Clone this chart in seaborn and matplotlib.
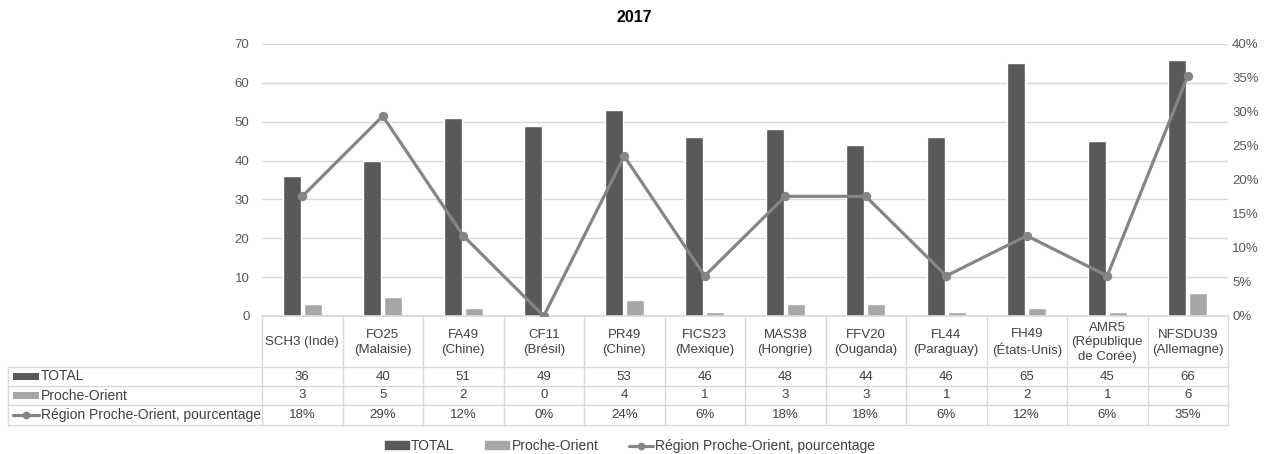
import numpy as np
import pandas as pd
import matplotlib
matplotlib.use("Agg")
import matplotlib.pyplot as plt
import matplotlib.transforms as mtransforms
from matplotlib.patches import Rectangle
from matplotlib.lines import Line2D
import seaborn as sns

# ---- data ----
title = "2017"
categories = ["SCH3 (Inde)", "FO25\n(Malaisie)", "FA49\n(Chine)", "CF11\n(Brésil)",
              "PR49\n(Chine)", "FICS23\n(Mexique)", "MAS38\n(Hongrie)", "FFV20\n(Ouganda)",
              "FL44\n(Paraguay)", "FH49\n(États-Unis)", "AMR5\n(République\nde Corée)",
              "NFSDU39\n(Allemagne)"]
total = [36, 40, 51, 49, 53, 46, 48, 44, 46, 65, 45, 66]
proche = [3, 5, 2, 0, 4, 1, 3, 3, 1, 2, 1, 6]
pct = [17.6, 29.4, 11.8, 0.0, 23.5, 5.9, 17.6, 17.6, 5.9, 11.8, 5.9, 35.3]
pct_labels = ["18%", "29%", "12%", "0%", "24%", "6%", "18%", "18%", "6%", "12%", "6%", "35%"]
series_names = ["TOTAL", "Proche-Orient", "Région Proche-Orient, pourcentage"]
left_ticks = [0, 10, 20, 30, 40, 50, 60, 70]
right_ticks = [0, 5, 10, 15, 20, 25, 30, 35, 40]

# ---- style ----
sns.set_theme(style="white")
plt.rcParams['font.family'] = ['Liberation Sans', 'DejaVu Sans']
dark = "#595959"
light = "#a6a6a6"
linec = "#858585"
gridc = "#d9d9d9"
textc = "#404040"
tickc = "#595959"
fs = 9.5

W, H = 1272, 454
fig = plt.figure(figsize=(W / 100, H / 100), dpi=100)
x0, x1, ytop, ybot = 262, 1228, 44, 316
ax = fig.add_axes([x0 / W, 1 - ybot / H, (x1 - x0) / W, (ybot - ytop) / H])

df = pd.DataFrame({
    "cat": categories * 2,
    "val": total + proche,
    "series": [series_names[0]] * len(categories) + [series_names[1]] * len(categories),
})
sns.barplot(data=df, x="cat", y="val", hue="series", order=categories,
            hue_order=series_names[:2], palette=[dark, light], width=0.52, gap=0.12,
            ax=ax, legend=False, saturation=1)
ax.set_ylim(0, 70)
ax.set_yticks(left_ticks)
ax.yaxis.grid(True, color=gridc, linewidth=1)
ax.set_axisbelow(True)
for s in ["left", "right", "top"]:
    ax.spines[s].set_visible(False)
ax.spines["bottom"].set_color(gridc)
ax.set_xlabel("")
ax.set_ylabel("")
ax.tick_params(axis="x", bottom=False, labelbottom=False, length=0)
ax.tick_params(axis="y", left=False, length=0, labelsize=fs, labelcolor=tickc, pad=9)

ax2 = ax.twinx()
sns.pointplot(x=categories, y=pct, ax=ax2, color=linec, markers="o",
              markersize=5, linewidth=2.3, order=categories)
ax2.set_ylim(0, 40)
ax2.set_yticks(right_ticks)
ax2.set_yticklabels([f"{v}%" for v in right_ticks])
ax2.tick_params(axis="y", right=False, length=0, labelsize=fs, labelcolor=tickc, pad=3)
for s in ax2.spines.values():
    s.set_visible(False)
ax2.set_xlabel("")
ax2.set_ylabel("")
ax2.tick_params(axis="x", bottom=False, labelbottom=False, length=0)
ax.set_xlim(-0.5, len(categories) - 0.5)
ax2.set_xlim(-0.5, len(categories) - 0.5)

fig.text(634 / W, 1 - 17 / H, title, ha="center", va="center", fontsize=11.5,
         fontweight="bold", color="black")

# ---- data table ----
tr = mtransforms.blended_transform_factory(ax.transData, fig.transFigure)
def fy(py):
    return 1 - py / H

hdr_top, hdr_bot = 316, 367
rows_y = [367, 386, 405, 425]
n = len(categories)
for i in range(n + 1):
    xb = i - 0.5
    fig.add_artist(Line2D([xb, xb], [fy(hdr_top), fy(rows_y[-1])], transform=tr,
                          color=gridc, linewidth=1))
for yy in rows_y:
    fig.add_artist(Line2D([8 / W, x1 / W], [fy(yy), fy(yy)], transform=fig.transFigure,
                          color=gridc, linewidth=1))
fig.add_artist(Line2D([8 / W, 8 / W], [fy(rows_y[0]), fy(rows_y[-1])],
                      transform=fig.transFigure, color=gridc, linewidth=1))

for i, c in enumerate(categories):
    fig.text(i, fy((hdr_top + hdr_bot) / 2 + 1), c, transform=tr, ha="center",
             va="center", fontsize=fs, color=textc, linespacing=1.3)

row_vals = [[str(v) for v in total], [str(v) for v in proche], pct_labels]
for r, vals in enumerate(row_vals):
    yc = fy((rows_y[r] + rows_y[r + 1]) / 2)
    for i, v in enumerate(vals):
        fig.text(i, yc, v, transform=tr, ha="center", va="center", fontsize=fs, color=textc)
    fig.text(41 / W, yc, series_names[r], ha="left", va="center", fontsize=10, color=textc)
    if r < 2:
        fig.add_artist(Rectangle((13 / W, yc - 3.5 / H), 26 / W, 7 / H,
                                 transform=fig.transFigure,
                                 color=[dark, light][r], linewidth=0))
    else:
        fig.add_artist(Line2D([13 / W, 26 / W, 39 / W], [yc, yc, yc],
                              transform=fig.transFigure,
                              color=linec, linewidth=2.3, marker="o", markersize=4.5,
                              markevery=[1]))

# ---- bottom legend ----
legend_handles = [
    Rectangle((0, 0), 1, 1, color=dark),
    Rectangle((0, 0), 1, 1, color=light),
    Line2D([0], [0], color=linec, linewidth=2.3, marker="o", markersize=4.5),
]
leg = fig.legend(legend_handles, series_names, loc="center", ncol=3,
                 bbox_to_anchor=(630 / W, fy(446)), frameon=False, fontsize=10,
                 handlelength=1.75, handleheight=0.5, columnspacing=2.2, handletextpad=0.15)
for t in leg.get_texts():
    t.set_color(textc)

fig.savefig("out.png", dpi=100)
